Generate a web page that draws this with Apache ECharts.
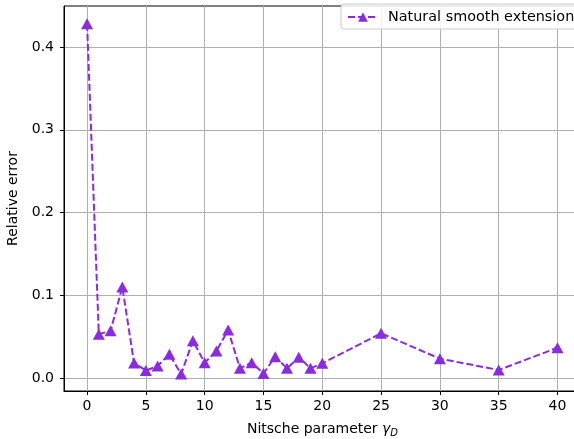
<!DOCTYPE html>
<html>
<head>
<meta charset="utf-8">
<script src="https://cdn.jsdelivr.net/npm/echarts@6/dist/echarts.min.js"></script>
<style>
  html, body { margin: 0; padding: 0; background: #fff; overflow: hidden; }
  #chart { position: absolute; left: 0; top: 0; width: 590px; height: 439px; }
</style>
</head>
<body>
<div id="chart"></div>
<script>
// Nitsche parameter values (x) and relative error (y)
const gammaD = [0, 1, 2, 3, 4, 5, 6, 7, 8, 9, 10, 11, 12, 13, 14, 15, 16, 17, 18, 19, 20, 25, 30, 35, 40];
const relError = [0.428, 0.053, 0.057, 0.110, 0.018, 0.009, 0.0145, 0.0286, 0.0048, 0.045, 0.0185,
  0.0326, 0.058, 0.0117, 0.0185, 0.0056, 0.0258, 0.0117, 0.025, 0.0117, 0.0177, 0.054, 0.0234, 0.0097, 0.0366];
const xTicks = [0, 5, 10, 15, 20, 25, 30, 35, 40];
const yTicks = [0, 0.1, 0.2, 0.3, 0.4];

const purple = '#8a2be2';
const font = 'DejaVu Sans';
const fs = 14;

const chart = echarts.init(document.getElementById('chart'));

chart.setOption({
  animation: false,
  textStyle: { fontFamily: font },
  grid: {
    left: 64, top: 6, right: 9, bottom: 48,
    outerBoundsMode: 'none',
    containLabel: false,
    show: true, borderColor: '#000', borderWidth: 1, backgroundColor: 'transparent'
  },
  legend: {
    left: 341, top: 4,
    padding: [6, 8, 5, 6],
    backgroundColor: 'rgba(255,255,255,0.85)',
    borderColor: '#cccccc', borderWidth: 1, borderRadius: 3,
    itemWidth: 30, itemHeight: 12,
    textStyle: { fontFamily: font, fontSize: 14.4, color: '#000', padding: [0, 0, 0, 5] },
    data: ['Natural smooth extension']
  },
  xAxis: {
    type: 'value',
    min: -1.96, max: 42,
    interval: 5,
    name: 'Nitsche parameter {i|γ}{s|D}',
    nameLocation: 'middle',
    nameGap: 30,
    nameTextStyle: {
      fontFamily: font, fontSize: fs, color: '#000',
      rich: {
        i: { fontFamily: font, fontStyle: 'italic', fontSize: fs, color: '#000' },
        s: { fontFamily: font, fontStyle: 'italic', fontSize: 10, color: '#000', verticalAlign: 'bottom', padding: [7, 0, 0, 0] }
      }
    },
    axisLine: { onZero: false, lineStyle: { color: '#000', width: 1 } },
    axisTick: { show: true, length: 4, customValues: xTicks, lineStyle: { color: '#000' } },
    axisLabel: { customValues: xTicks, margin: 8, fontSize: fs, color: '#000', fontFamily: font },
    splitLine: { show: true, lineStyle: { color: '#b0b0b0', width: 1 } }
  },
  yAxis: {
    type: 'value',
    min: -0.0157, max: 0.4496,
    interval: 0.1,
    name: 'Relative error',
    nameLocation: 'middle',
    nameGap: 33,
    nameTextStyle: { fontFamily: font, fontSize: fs, color: '#000' },
    axisLine: { show: true, onZero: false, lineStyle: { color: '#000', width: 1 } },
    axisTick: { show: true, length: 4, customValues: yTicks, lineStyle: { color: '#000' } },
    axisLabel: {
      customValues: yTicks, margin: 10, fontSize: fs, color: '#000', fontFamily: font,
      formatter: v => v.toFixed(1)
    },
    splitLine: { show: true, lineStyle: { color: '#b0b0b0', width: 1 } }
  },
  series: [{
    name: 'Natural smooth extension',
    type: 'line',
    data: gammaD.map((g, i) => [g, relError[i]]),
    symbol: 'triangle',
    symbolSize: [12, 11],
    showAllSymbol: true,
    itemStyle: { color: purple },
    lineStyle: { color: purple, width: 2, type: [7, 3] },
    z: 3
  }]
});
</script>
</body>
</html>
